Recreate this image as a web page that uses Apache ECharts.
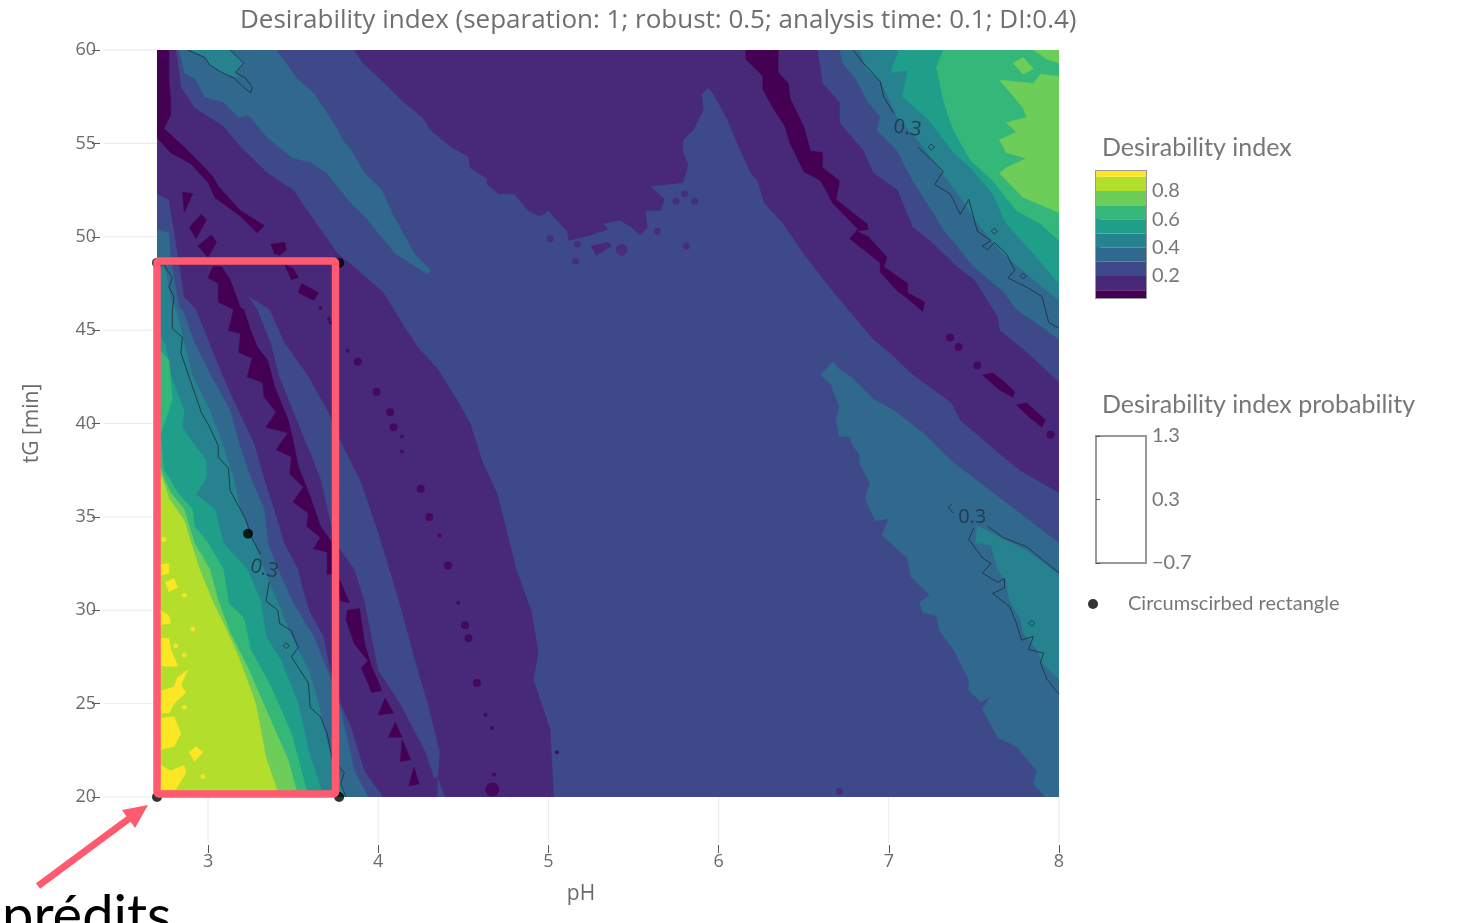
<!DOCTYPE html>
<html><head><meta charset="utf-8">
<script src="https://cdn.jsdelivr.net/npm/echarts@6/dist/echarts.min.js"></script>
<style>html,body{margin:0;background:#fff}#c{width:1470px;height:923px}</style></head>
<body><div id="c"></div>
<script>
// ---- tick labels / categories
const pHTicks=[3,4,5,6,7,8];
const tGTicks=[20,25,30,35,40,45,50,55,60];
const scaleTicks=[0.2,0.4,0.6,0.8];
const probTicks=[-0.7,0.3,1.3];
const levelEdges=[0.045,0.1,0.2,0.3,0.4,0.5,0.6,0.7,0.8,0.9,0.941];
const levelColors=['#440154','#482878','#3e4989','#31688e','#26828e','#1f9e89','#35b779','#6dcd59','#b4de2c','#fde725'];
const rectangle=[[2.7,48.6],[3.77,48.6],[2.7,20],[3.77,20],[3.235,34.1]];

// ---- filled contour regions [pH, tG]
const fullBlue=[[2.7,20],[8,20],[8,60],[2.7,60]];
const purpleLeft=[[2.7,60],[2.81,60],[2.84,58],[2.92,56.9],[3.09,55.9],[3.19,54.8],[3.35,53.4],[3.5,52.5],[3.59,51.3],[3.76,49.1],[3.88,48.2],[4.03,47],[4.13,45.5],[4.23,44.1],[4.35,42.9],[4.46,41.3],[4.54,40],[4.61,38],[4.7,36.2],[4.81,32.2],[4.9,29.9],[4.94,27.7],[4.91,26.3],[5.01,23.6],[5.03,20],[4.03,20],[3.92,21.4],[3.84,23.8],[3.78,25],[3.72,26.8],[3.68,28.6],[3.6,29.9],[3.56,31.1],[3.53,32.2],[3.45,33.6],[3.39,35.4],[3.33,37.1],[3.27,39],[3.18,40.7],[3.09,42.5],[3.01,44.3],[2.93,46.1],[2.86,46.8],[2.81,49.8],[2.77,52],[2.7,52.3]];
const blueStrip=[[3.24,46.8],[3.36,46.1],[3.45,44.3],[3.59,42.5],[3.7,40.7],[3.78,39],[3.9,36.8],[4,34.1],[4.07,32],[4.12,30.5],[4.23,26.8],[4.29,25],[4.36,22.4],[4.35,21.1],[4.33,21],[4.28,22.4],[4.13,25],[4,26.8],[3.92,30.5],[3.86,32.2],[3.75,33.6],[3.66,37.1],[3.5,40.7],[3.42,42.5],[3.37,44.3],[3.29,46.1]];
const blueStripTail=[[4.35,21],[4.39,20],[4.35,20]];
const tealLeft31=[[2.7,50.4],[2.77,50.2],[2.78,48.8],[2.83,46.2],[2.85,46.1],[2.92,44.3],[3.02,42.5],[3.13,40.7],[3.18,39],[3.25,37.1],[3.33,35.4],[3.35,33.6],[3.41,32.2],[3.5,30.4],[3.62,28.6],[3.7,26.8],[3.77,25],[3.86,21.4],[3.94,20],[2.7,20]];
const tealLeft26=[[2.7,48.9],[2.75,48.2],[2.78,46.6],[2.81,46.1],[2.86,44.3],[2.91,42.5],[3.01,40.7],[3.08,39],[3.15,37.1],[3.19,35.4],[3.27,33.6],[3.33,32.2],[3.41,30.4],[3.49,28.6],[3.59,26.8],[3.65,25],[3.69,23.2],[3.81,20],[2.7,20]];
const tealLeft1f=[[2.7,45],[2.75,44.2],[2.78,42.6],[2.86,40.7],[2.85,39.8],[2.91,39],[2.99,38],[2.99,37.1],[2.93,36.2],[3.04,35.4],[3.09,33.6],[3.23,32.2],[3.31,30.5],[3.34,28.6],[3.43,27.3],[3.53,25],[3.59,22.5],[3.68,20],[2.7,20]];
const greenLeft35=[[2.7,44.1],[2.77,43.4],[2.79,41.3],[2.72,39.4],[2.74,37.5],[2.77,37.1],[2.82,36.3],[2.91,35.4],[2.92,34.5],[3,33.6],[3.09,32.2],[3.12,30.4],[3.21,29.6],[3.25,27.9],[3.37,25.9],[3.49,23.4],[3.59,20],[2.7,20]];
const greenLeft6d=[[2.7,38.2],[2.74,37.1],[2.78,36.3],[2.86,35.4],[2.92,33.6],[3.01,32.2],[3.06,30.5],[3.13,28.8],[3.23,27],[3.34,24.7],[3.47,22],[3.53,20],[2.7,20]];
const limeLeft=[[2.7,37.5],[2.73,37.1],[2.77,36],[2.86,34.8],[2.9,33.6],[2.95,32.2],[3.03,30.4],[3.09,29.3],[3.18,27.5],[3.28,25],[3.34,22.1],[3.42,20],[2.7,20]];
const yellow1=[[2.75,31.5],[2.8,31.7],[2.82,31.2],[2.77,31]];
const yellow2=[[2.7,30.1],[2.77,29.7],[2.78,29.3],[2.7,29.2]];
const yellow3=[[2.7,28.5],[2.77,28.5],[2.78,27.9],[2.81,27.3],[2.82,27],[2.75,27],[2.7,27.1]];
const yellow4=[[2.7,25.6],[2.8,25.9],[2.82,26.4],[2.88,26.8],[2.84,26],[2.87,25.6],[2.8,25],[2.77,24.5],[2.7,24.5]];
const yellow5=[[2.7,24.2],[2.8,24.3],[2.84,23.4],[2.8,22.7],[2.7,22.5]];
const yellow6=[[2.89,22.4],[2.93,22.7],[2.97,22.4],[2.92,21.9]];
const yellow7=[[2.7,21.8],[2.78,21.4],[2.86,21.7],[2.87,21.3],[2.81,20.4],[2.7,20.4]];
const yellow8=[[2.7,32.4],[2.77,32.5],[2.77,32],[2.7,31.8]];

const darkTopLeft=[[2.7,60],[2.77,60],[2.77,58.4],[2.78,57.3],[2.78,56.5],[2.74,55.8],[2.86,54.8],[2.96,53.9],[3.03,53.2],[3.06,52.7],[3.19,51.4],[3.33,50.6],[3.29,50.2],[3.19,51.1],[3.04,52.1],[3,52.9],[2.9,53.9],[2.78,54.5],[2.7,55.3]];
const darkB1=[[2.85,52.4],[2.91,52.3],[2.86,51.3]];
const darkB2=[[2.89,50.5],[2.96,51.2],[2.99,50.9],[2.93,49.9]];
const darkB3=[[2.94,49.5],[3.02,50.1],[3.05,49.7],[3,48.9]];
const darkD1=[[3.37,49.6],[3.45,49.7],[3.46,49.3],[3.42,49],[3.39,49.1]];
const darkD2=[[3.45,48.5],[3.5,48.3],[3.53,47.8],[3.49,47.7]];
const darkD3=[[3.55,47.5],[3.65,47],[3.62,46.6],[3.53,47]];
const darkMain=[[3.08,48.4],[3.13,47.7],[3.19,46.2],[3.21,46.1],[3.25,45],[3.29,44.1],[3.35,43.4],[3.39,42],[3.47,40.2],[3.5,39.1],[3.53,37.7],[3.6,36.1],[3.66,34.5],[3.73,33.6],[3.73,32],[3.7,31.9],[3.7,33.1],[3.62,33.3],[3.66,33.9],[3.58,34.5],[3.59,35.2],[3.5,35.8],[3.56,36.6],[3.48,37.3],[3.49,38.2],[3.4,38.6],[3.47,39.5],[3.34,39.8],[3.4,40.6],[3.33,41.4],[3.32,42.2],[3.23,42.5],[3.26,43.5],[3.18,43.8],[3.19,44.8],[3.12,45],[3.15,46.1],[3.06,46.5],[3.06,47.5],[3,47.8],[3.03,48.4]];
const darkE1=[[3.74,32],[3.78,31.5],[3.83,30.4],[3.78,30.5]];
const darkE2=[[3.82,30],[3.89,30.1],[3.92,28.2],[3.96,27],[3.99,26.4],[4.02,25.7],[3.96,25.6],[3.94,26.1],[3.9,26.9],[3.94,27.3],[3.86,28.2],[3.81,29.5]];
const darkT1=[[4.04,25.3],[4.09,24.5],[4,24.4]];
const darkT2=[[4.1,24],[4.14,23.2],[4.06,23.2]];
const darkT3=[[4.14,23.1],[4.19,22],[4.13,21.9]];
const darkT4=[[4.21,21.6],[4.24,20.7],[4.18,20.6]];
const purpleBig=[[3.86,60],[3.91,59.3],[4.03,58.3],[4.15,57.2],[4.26,56.4],[4.31,55.7],[4.43,54.8],[4.53,54.3],[4.54,53.7],[4.64,53.1],[4.64,52.8],[4.71,52.3],[4.8,52.3],[4.88,51.4],[4.95,51.1],[5,51.4],[5.11,50.3],[5.12,49.8],[5.25,50.1],[5.35,50.4],[5.32,50.7],[5.42,50.9],[5.49,50.5],[5.54,50.1],[5.58,50.5],[5.57,51.4],[5.66,51.4],[5.68,52],[5.6,52.7],[5.79,52.9],[5.81,53.5],[5.82,53.9],[5.79,54.5],[5.79,55.2],[5.85,55.7],[5.91,56.8],[5.9,57.6],[5.94,58],[5.98,57.5],[6.05,56.3],[6.12,54.8],[6.19,53.4],[6.23,53],[6.27,51.8],[6.38,50.7],[6.5,49.1],[6.67,47.1],[6.91,44.5],[7.03,43.6],[7.13,42.7],[7.37,41.1],[7.42,40.2],[7.65,38.4],[7.77,37.5],[8,36.3],[8,42.2],[7.81,43.8],[7.65,45],[7.64,45.7],[7.5,47.7],[7.4,48.4],[7.24,49.8],[7.14,50.5],[7.05,52.5],[6.91,53.4],[6.85,54.6],[6.71,56.1],[6.71,57.2],[6.61,58.2],[6.58,60]];
const purpleBlob=[[5.25,49.5],[5.35,49.7],[5.37,49.5],[5.28,49]];
const darkRight=[[6.16,60],[6.35,60],[6.35,58.8],[6.41,58.2],[6.42,57.4],[6.5,55.9],[6.54,54.6],[6.61,54.5],[6.61,53.7],[6.71,53],[6.69,52],[6.87,50.7],[6.88,50.4],[6.81,50.3],[6.88,50],[6.99,48.9],[6.97,48.4],[7.11,47.5],[7.11,47],[7.21,46.5],[7.2,46],[7.11,46.7],[7.05,47.1],[6.95,48.1],[6.95,48.6],[6.77,49.9],[6.82,50.4],[6.67,51.8],[6.6,53],[6.5,53.5],[6.42,55],[6.39,55.9],[6.32,56.9],[6.26,57.9],[6.26,58.6],[6.16,59.5]];
const darkRB1=[[7.55,42.6],[7.61,42.7],[7.67,42.3],[7.74,41.7],[7.73,41.4],[7.65,41.8],[7.6,42.2]];
const darkRB2=[[7.75,41],[7.81,41.1],[7.87,40.6],[7.92,40.2],[7.9,39.8],[7.83,40.3]];
const tealTopStrip=[[2.83,60],[2.86,58.8],[2.93,58.4],[2.98,57.5],[3.09,57.2],[3.18,56.4],[3.24,56.5],[3.35,55.3],[3.5,54.2],[3.6,54],[3.7,53.4],[3.84,51.8],[3.92,51.1],[4.1,49.1],[4.29,48],[4.31,48.2],[4.21,49.1],[4.17,49.8],[4.09,51.1],[4.02,52.5],[3.92,53.4],[3.85,54.5],[3.79,55.2],[3.75,55.9],[3.62,57.7],[3.53,58.4],[3.4,60]];
const tealTopPatch=[[2.89,60],[2.99,59.6],[3.01,59.2],[3.08,58.8],[3.15,58.6],[3.18,58.6],[3.16,58.8],[3.21,59.3],[3.13,60]];
const right31=[[6.71,60],[6.73,59.3],[6.81,58.4],[6.88,57.2],[6.95,56.4],[6.93,55.7],[7.05,54.6],[7.14,53],[7.24,51.6],[7.32,50.4],[7.5,48.4],[7.67,47.1],[7.75,46.1],[7.85,45.5],[8,44.5],[8,60]];
const right26=[[6.83,60],[6.87,58.9],[6.95,58.4],[7.05,56.4],[7.17,55.2],[7.3,53.6],[7.42,52.1],[7.54,50.5],[7.67,49.1],[7.85,47.7],[8,46.6],[8,60]];
const right1f=[[7.06,60],[7.01,58.8],[7.11,58.9],[7.08,57.5],[7.23,56.3],[7.38,54.5],[7.48,53.7],[7.61,52.3],[7.69,50.7],[7.83,49.3],[8,47.5],[8,60]];
const right35=[[7.32,60],[7.28,59.1],[7.32,57.3],[7.38,55.7],[7.48,54.1],[7.61,53],[7.75,51.4],[7.89,50.7],[8,49.8],[8,60]];
const right6d=[[7.65,58.4],[7.85,58.2],[7.89,58.7],[8,58.6],[8,51.3],[7.79,52.1],[7.65,53.4],[7.69,53.7],[7.81,54.2],[7.69,54.5],[7.65,55.2],[7.75,55.6],[7.69,56.1],[7.81,56.4],[7.79,56.9]];
const right6dDiamond=[[7.73,59.3],[7.79,59.6],[7.85,59],[7.79,58.7]];
const right6dTop=[[7.85,60],[8,60],[8,59.3],[7.93,59.5]];
const lower31=[[6.67,43.3],[6.6,42.6],[6.66,42.1],[6.71,40.9],[6.69,40.2],[6.71,39.3],[6.77,39.3],[6.79,38.8],[6.83,38.3],[6.83,37.8],[6.89,36.8],[6.86,36],[6.92,34.8],[7,34.9],[6.96,34],[7.11,32.8],[7.13,31.8],[7.24,30.8],[7.18,30.4],[7.2,29.9],[7.28,29.7],[7.3,28.9],[7.38,27.9],[7.47,26.3],[7.47,25.7],[7.54,25.1],[7.6,25.4],[7.55,24.7],[7.64,23.2],[7.75,22.7],[7.87,21.4],[7.85,20.7],[7.92,20],[8,20],[8,33.6],[7.87,34.5],[7.61,36.3],[7.38,37.9],[7.2,39.5],[7.03,40.7],[6.91,41.3],[6.79,42.4],[6.71,42.9]];
const lower26=[[7.52,34.5],[7.51,33.6],[7.6,33.5],[7.64,32.2],[7.69,31.5],[7.71,30.5],[7.77,29.6],[7.79,28.8],[7.87,27.9],[7.91,27.1],[8,26.3],[8,31.9],[7.81,33.2],[7.61,34.1]];

// ---- isolines at 0.3
const line1=[[2.88,60],[2.98,59.6],[3.01,59.2],[3.08,58.8],[3.15,58.5],[3.21,58],[3.25,57.7],[3.26,58],[3.22,58.5],[3.16,58.8],[3.21,59.3],[3.13,60]];
const line2a=[[2.74,48.5],[2.79,47.8],[2.77,47.3],[2.8,46.8],[2.79,46.1],[2.79,45.1],[2.85,44.6],[2.84,43.8],[2.9,42.2],[2.96,40.6],[3.01,39.8],[3.06,38.8],[3.06,38.2],[3.12,37.6],[3.13,36.4],[3.22,34.9],[3.26,33.8],[3.31,33]];
const line2b=[[3.36,31.5],[3.34,30.5],[3.41,30],[3.42,29.3],[3.49,28.9],[3.53,28],[3.49,27.5],[3.59,26.1],[3.6,24.8],[3.66,24.3],[3.7,23.4],[3.73,22],[3.8,21.3],[3.78,20.7],[3.81,20]];
const line3a=[[6.79,60],[6.85,59.3],[6.95,58.3],[6.97,57.5],[7.03,56.6]];
const line3b=[[7.17,54.8],[7.23,54.3],[7.32,53.5],[7.27,52.8],[7.36,52.3],[7.42,51.2],[7.47,52],[7.52,50.3],[7.6,49.8],[7.55,49.5],[7.58,49.3],[7.62,49.7],[7.69,49.1],[7.74,48.2],[7.7,47.8],[7.81,47.3],[7.9,46.8],[7.94,45.4],[8,45.1]];
const line4=[[7.5,34.4],[7.47,33.8],[7.55,32.8],[7.6,32.5],[7.55,32],[7.64,31.5],[7.68,31.7],[7.68,31.2],[7.61,30.9],[7.71,30.2],[7.75,29.3],[7.78,28.4],[7.85,28.6],[7.82,27.9],[7.91,27.7],[7.89,27.2],[7.93,26.3],[8,25.5]];
const line5=[[7.58,34.5],[7.67,33.9],[7.81,33.4],[8,32]];
const line6=[[7.37,35.7],[7.35,35.5],[7.38,35.2]];
const isoLoops=[[7.25,54.8],[7.62,50.3],[7.79,47.9],[7.84,29.3],[3.46,28.1]];
const isoLabels=[[3.33,32.2,-14],[7.11,55.8,-8],[7.49,35,0]];

// ---- small islands
const darkDotsSmall=[[3.66,46.2],[3.71,45.6],[3.72,45.4],[3.82,43.9],[4.14,39.3],[4.14,38.5],[4.36,34],[4.47,30.4],[4.63,24.4],[4.67,23.7],[4.68,21.2],[5.05,22.4]];
const darkDotsMedium=[[3.88,43.3],[3.99,41.7],[4.07,40.6],[4.09,39.8],[4.25,36.5],[4.3,35],[4.41,32.4],[4.51,29.2],[4.53,28.5],[4.58,26.1],[7.36,44.6],[7.41,44.1],[7.52,43.1],[7.95,39.4]];
const darkDotsLarge=[[4.67,20.4]];
const purpleDots=[[5.8,52.3],[5.75,51.9],[5.86,51.9],[5.64,50.3],[5.01,49.9],[5.16,48.7],[5.81,49.5],[5.17,49.6],[6.71,20.3]];
const purpleDotsLarge=[[5.43,49.3]];
const yellowDots=[[2.74,33.8],[2.86,30.8],[2.91,29],[2.81,28.1],[2.86,27.6],[2.86,24.8],[2.97,21.1]];

const polyGroups=[
 [fullBlue,2],[purpleLeft,1],[purpleBig,1],[blueStrip,2],[blueStripTail,2],[tealTopStrip,3],[tealTopPatch,4],
 [tealLeft31,3],[tealLeft26,4],[tealLeft1f,5],[greenLeft35,6],[greenLeft6d,7],[limeLeft,8],
 [yellow1,9],[yellow2,9],[yellow3,9],[yellow4,9],[yellow5,9],[yellow6,9],[yellow7,9],[yellow8,9],
 [darkTopLeft,0],[darkB1,0],[darkB2,0],[darkB3,0],[darkD1,0],[darkD2,0],[darkD3,0],[darkMain,0],[darkE1,0],[darkE2,0],[darkT1,0],[darkT2,0],[darkT3,0],[darkT4,0],
 [darkRight,0],[darkRB1,0],[darkRB2,0],[purpleBlob,1],
 [right31,3],[right26,4],[right1f,5],[right35,6],[right6d,7],[right6dDiamond,7],[right6dTop,7],[lower31,3],[lower26,4]
];
const isoLines=[line1,line2a,line2b,line3a,line3b,line4,line5,line6];

const ISO='#1d3040';
const series=[];
polyGroups.forEach(([pts,lvl])=>{
  const col=levelColors[lvl];
  series.push({type:'custom',coordinateSystem:'cartesian2d',silent:true,z:2,clip:true,data:pts,
    renderItem(p,api){ if(p.dataIndex!==0) return null;
      return {type:'polygon',shape:{points:pts.map(q=>api.coord(q))},style:{fill:col,stroke:col,lineWidth:0.5}};}});
});
const dots=(data,color,size)=>({type:'scatter',silent:true,z:3,data,symbol:'circle',symbolSize:size,itemStyle:{color}});
series.push(dots(darkDotsSmall,levelColors[0],4),dots(darkDotsMedium,levelColors[0],8),dots(darkDotsLarge,levelColors[0],14),
            dots(purpleDots,levelColors[1],7),dots(purpleDotsLarge,levelColors[1],12),dots(yellowDots,levelColors[9],5));
isoLines.forEach(l=>series.push({type:'line',data:l,silent:true,z:4,symbol:'none',lineStyle:{color:ISO,width:1,opacity:.85},animation:false}));
series.push({type:'scatter',silent:true,z:4,data:isoLoops,symbol:'diamond',symbolSize:6,itemStyle:{color:'rgba(0,0,0,0)',borderColor:ISO,borderWidth:1}});
series.push({type:'scatter',silent:true,z:5,symbolSize:1,itemStyle:{color:'rgba(0,0,0,0)'},
  data:isoLabels.map(d=>({value:[d[0],d[1]],label:{rotate:d[2]}})),
  label:{show:true,position:'inside',formatter:'0.3',color:ISO,fontSize:20,fontFamily:'Open Sans'}});
// gridline stubs between the plot and the displaced axes
series.push({type:'custom',coordinateSystem:'cartesian2d',silent:true,z:1,clip:false,data:pHTicks.map(v=>[v,20]),
  renderItem(p,api){const c=api.coord([api.value(0),20]);return {type:'line',shape:{x1:c[0],y1:c[1],x2:c[0],y2:c[1]+46},style:{stroke:'#eaeaea',lineWidth:1}};}});
series.push({type:'custom',coordinateSystem:'cartesian2d',silent:true,z:1,clip:false,data:tGTicks.map(v=>[2.7,v]),
  renderItem(p,api){const c=api.coord([2.7,api.value(1)]);return {type:'line',shape:{x1:c[0]-54,y1:c[1],x2:c[0],y2:c[1]},style:{stroke:'#eaeaea',lineWidth:1}};}});
// circumscribed rectangle corner points
series.push({name:'Circumscirbed rectangle',type:'scatter',z:6,data:rectangle,symbol:'circle',symbolSize:10,clip:false,itemStyle:{color:'#000'}});
// colour scale
series.push({type:'custom',coordinateSystem:'cartesian2d',xAxisIndex:1,yAxisIndex:1,silent:true,z:2,
  data:levelColors.map((c,i)=>[levelEdges[i],levelEdges[i+1]]),
  renderItem(p,api){const a=api.coord([0,api.value(0)]),b=api.coord([1,api.value(1)]);
    return {type:'rect',shape:{x:a[0],y:b[1],width:b[0]-a[0],height:a[1]-b[1]},style:{fill:levelColors[p.dataIndex]}};}});

const tickFont={color:'#6b6b6b',fontFamily:'Open Sans',fontSize:18};
const barFont={color:'#777',fontFamily:'Lato',fontSize:20};
const PINK='#ff5a70';
const option={
  animation:false,backgroundColor:'#fff',
  title:[
    {text:'Desirability index (separation: 1; robust: 0.5; analysis time: 0.1; DI:0.4)',left:235,top:3,textStyle:{color:'#6f6f6f',fontFamily:'Open Sans',fontWeight:'normal',fontSize:26}},
    {text:'Desirability index',left:1097,top:130,textStyle:{color:'#777',fontFamily:'Lato',fontWeight:'normal',fontSize:25}},
    {text:'Desirability index probability',left:1097,top:387,textStyle:{color:'#777',fontFamily:'Lato',fontWeight:'normal',fontSize:25}}
  ],
  legend:{left:1088,top:594,padding:0,itemWidth:50,itemHeight:10,data:[{name:'Circumscirbed rectangle',icon:'circle'}],
    textStyle:{color:'#777',fontFamily:'Lato',fontSize:20,padding:[0,0,0,5]},selectedMode:false},
  grid:[
    {left:157,top:50,width:902,height:747,containLabel:false},
    {left:1096,top:171,width:50,height:127,show:true,borderColor:'#999',borderWidth:2,backgroundColor:'transparent'},
    {left:1096,top:436,width:50,height:127,show:true,borderColor:'#999',borderWidth:2,backgroundColor:'transparent'}
  ],
  xAxis:[
    {type:'value',min:2.7,max:8,offset:48,position:'bottom',name:'pH',nameLocation:'middle',nameGap:39,
     nameTextStyle:{color:'#6b6b6b',fontFamily:'Open Sans',fontSize:21,padding:[0,54,0,0]},
     axisLine:{show:false},splitLine:{show:false},
     axisTick:{show:true,length:8,customValues:pHTicks,lineStyle:{color:'#555'}},
     axisLabel:{customValues:pHTicks,margin:8,...tickFont}},
    {type:'value',gridIndex:1,min:0,max:1,show:false},
    {type:'value',gridIndex:2,min:0,max:1,show:false}
  ],
  yAxis:[
    {type:'value',min:20,max:60,interval:5,offset:57,position:'left',name:'tG [min]',nameLocation:'middle',nameGap:57,nameRotate:90,
     nameTextStyle:{color:'#6b6b6b',fontFamily:'Open Sans',fontSize:21,padding:[0,0,0,0]},
     axisLine:{show:false},splitLine:{show:false},
     axisTick:{show:true,length:8,lineStyle:{color:'#555'}},
     axisLabel:{margin:4,...tickFont}},
    {type:'value',gridIndex:1,min:0.045,max:0.941,position:'right',axisLine:{show:false},splitLine:{show:false},
     axisTick:{show:true,length:4,customValues:scaleTicks,lineStyle:{color:'#555'}},
     axisLabel:{customValues:scaleTicks,margin:6,formatter:v=>v.toFixed(1),...barFont}},
    {type:'value',gridIndex:2,min:-0.7,max:1.3,position:'right',axisLine:{show:false},splitLine:{show:false},
     axisTick:{show:true,length:4,customValues:probTicks,lineStyle:{color:'#555'}},
     axisLabel:{customValues:probTicks,margin:6,formatter:v=>v.toFixed(1).replace('-','\u2212'),...barFont}}
  ],
  series,
  graphic:[
    {type:'rect',z:100,shape:{x:157,y:261,width:178.5,height:533,r:2},style:{fill:'none',stroke:PINK,lineWidth:7.5}},
    {type:'polygon',z:100,shape:{points:[[148,805],[135,828],[130.6,821.8],[40.1,888.8],[35.9,883.2],[126.4,816.2],[122,810]]},style:{fill:PINK}},
    {type:'text',z:100,x:2,y:889,style:{text:'prédits',fill:'#000',fontFamily:'Lato',fontSize:56,textVerticalAlign:'top'}}
  ]
};
const chart=echarts.init(document.getElementById('c'),null,{renderer:'canvas'});
chart.setOption(option);
</script></body></html>
